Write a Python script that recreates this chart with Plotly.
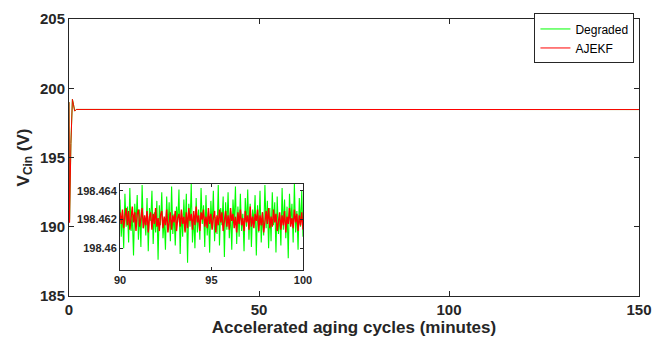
import numpy as np
import plotly.graph_objects as go

# ---- main plot data (transient then steady state) ----
t_main = [0, 0.15, 0.5, 0.9, 1.2, 1.5, 1.9, 150]
degraded_main = [199.0, 190.5, 196.0, 199.2, 198.8, 198.35, 198.47, 198.462]
ajekf_main = [199.0, 190.3, 196.0, 199.2, 198.8, 198.35, 198.47, 198.462]

# ---- inset data (zoom 90..100 min) ----
inset_start, inset_end = 90, 100
degraded_inset = [
    198.4634, 198.4608, 198.4626, 198.4600, 198.4638, 198.4615, 198.4629, 198.4604, 198.4642, 198.4612,
    198.4623, 198.4595, 198.4631, 198.4617, 198.4637, 198.4606, 198.4627, 198.4601, 198.4644, 198.4614,
    198.4622, 198.4609, 198.4635, 198.4598, 198.4628, 198.4619, 198.4640, 198.4603, 198.4625, 198.4611,
    198.4633, 198.4592, 198.4630, 198.4616, 198.4639, 198.4607, 198.4621, 198.4599, 198.4636, 198.4613,
    198.4632, 198.4605, 198.4643, 198.4610, 198.4624, 198.4602, 198.4629, 198.4618, 198.4641, 198.4596,
    198.4626, 198.4608, 198.4634, 198.4612, 198.4638, 198.4590, 198.4631, 198.4615, 198.4645, 198.4604,
    198.4623, 198.4600, 198.4635, 198.4611, 198.4627, 198.4606, 198.4642, 198.4617, 198.4630, 198.4601,
    198.4637, 198.4609, 198.4625, 198.4597, 198.4633, 198.4614, 198.4640, 198.4605, 198.4622, 198.4610,
    198.4644, 198.4602, 198.4628, 198.4616, 198.4636, 198.4594, 198.4632, 198.4613, 198.4639, 198.4607,
    198.4626, 198.4599, 198.4634, 198.4618, 198.4643, 198.4603, 198.4629, 198.4608, 198.4638, 198.4612,
    198.4624, 198.4598, 198.4635, 198.4615, 198.4641, 198.4606, 198.4631, 198.4601, 198.4627, 198.4617,
    198.4637, 198.4595, 198.4630, 198.4611, 198.4640, 198.4604, 198.4625, 198.4609, 198.4644, 198.4614,
    198.4633, 198.4600, 198.4628, 198.4605, 198.4639, 198.4616, 198.4632, 198.4597, 198.4636, 198.4610,
    198.4623, 198.4602, 198.4642, 198.4613, 198.4634, 198.4607, 198.4629, 198.4593, 198.4638, 198.4618,
    198.4631, 198.4604, 198.4645, 198.4611, 198.4626, 198.4599, 198.4635, 198.4615, 198.4640, 198.4608,
]
ajekf_inset = [
    198.4625, 198.4617, 198.4627, 198.4614, 198.4622, 198.4628, 198.4616, 198.4626, 198.4613, 198.4623,
    198.4629, 198.4618, 198.4625, 198.4612, 198.4624, 198.4627, 198.4615, 198.4621, 198.4628, 198.4614,
    198.4623, 198.4616, 198.4626, 198.4611, 198.4622, 198.4625, 198.4613, 198.4624, 198.4617, 198.4628,
    198.4615, 198.4621, 198.4612, 198.4623, 198.4626, 198.4614, 198.4622, 198.4616, 198.4627, 198.4611,
    198.4620, 198.4625, 198.4613, 198.4623, 198.4618, 198.4626, 198.4612, 198.4621, 198.4624, 198.4615,
    198.4627, 198.4617, 198.4622, 198.4611, 198.4625, 198.4614, 198.4628, 198.4619, 198.4624, 198.4613,
    198.4626, 198.4616, 198.4629, 198.4618, 198.4623, 198.4612, 198.4625, 198.4620, 198.4627, 198.4615,
    198.4622, 198.4614, 198.4628, 198.4617, 198.4624, 198.4613, 198.4621, 198.4626, 198.4611, 198.4623,
    198.4616, 198.4627, 198.4618, 198.4625, 198.4612, 198.4620, 198.4626, 198.4615, 198.4623, 198.4613,
    198.4628, 198.4619, 198.4624, 198.4614, 198.4622, 198.4611, 198.4625, 198.4617, 198.4627, 198.4616,
    198.4621, 198.4612, 198.4626, 198.4618, 198.4623, 198.4613, 198.4629, 198.4615, 198.4622, 198.4614,
    198.4624, 198.4619, 198.4627, 198.4612, 198.4623, 198.4616, 198.4625, 198.4611, 198.4621, 198.4626,
    198.4617, 198.4628, 198.4614, 198.4622, 198.4615, 198.4627, 198.4618, 198.4624, 198.4612, 198.4620,
    198.4625, 198.4613, 198.4623, 198.4616, 198.4626, 198.4611, 198.4622, 198.4617, 198.4628, 198.4615,
    198.4621, 198.4614, 198.4627, 198.4618, 198.4624, 198.4612, 198.4623, 198.4616, 198.4625, 198.4613,
]
t_inset_deg = np.linspace(inset_start, inset_end, len(degraded_inset))
t_inset_aj = np.linspace(inset_start, inset_end, len(ajekf_inset))

main_xticks = [0, 50, 100, 150]
main_yticks = [185, 190, 195, 200, 205]
inset_xticks = [90, 95, 100]
inset_yticks = [198.46, 198.462, 198.464]
inset_yticklabels = ["198.46", "198.462", "198.464"]

GREEN = "#00ff00"
RED = "#ff0000"
AX = "#262626"
FONT = "Liberation Sans"


def bold(vals):
    return ["<b>%s</b>" % v for v in vals]


fig = go.Figure()
fig.add_trace(go.Scatter(x=t_main, y=degraded_main, mode="lines", name="Degraded",
                         line=dict(color=GREEN, width=1)))
fig.add_trace(go.Scatter(x=t_main, y=ajekf_main, mode="lines", name="AJEKF",
                         line=dict(color=RED, width=1)))
fig.add_trace(go.Scatter(x=t_inset_deg, y=degraded_inset, mode="lines", showlegend=False,
                         line=dict(color=GREEN, width=1.1), xaxis="x2", yaxis="y2"))
fig.add_trace(go.Scatter(x=t_inset_aj, y=ajekf_inset, mode="lines", showlegend=False,
                         line=dict(color=RED, width=1.4), xaxis="x2", yaxis="y2"))

common = dict(showgrid=False, zeroline=False, showline=True, linecolor=AX, linewidth=1,
              mirror="ticks", ticks="inside", tickcolor=AX)
fig.update_layout(
    width=668, height=346,
    margin=dict(l=69, r=29, t=10, b=50),
    paper_bgcolor="white", plot_bgcolor="white",
    font=dict(family=FONT, color=AX),
    xaxis=dict(range=[0, 150], tickvals=main_xticks, ticktext=bold(main_xticks),
               ticklen=5, tickfont=dict(family=FONT, size=15, color=AX),
               title=dict(text="<b>Accelerated aging cycles (minutes)</b>",
                          font=dict(family=FONT, size=17, color=AX), standoff=1),
               **common),
    yaxis=dict(range=[185, 205], tickvals=main_yticks, ticktext=bold(main_yticks),
               ticklen=5, tickfont=dict(family=FONT, size=15, color=AX),
               title=dict(text="<b>V<sub>Cin</sub> (V)</b>",
                          font=dict(family=FONT, size=17, color=AX), standoff=6),
               **common),
    xaxis2=dict(domain=[0.0895, 0.4105], anchor="y2", range=[90, 100],
                tickvals=inset_xticks, ticktext=bold(inset_xticks),
                ticklen=3, tickfont=dict(family=FONT, size=11, color=AX), **common),
    yaxis2=dict(domain=[0.0944, 0.4056], anchor="x2", range=[198.4585, 198.4645],
                tickvals=inset_yticks, ticktext=bold(inset_yticklabels),
                ticklen=3, tickfont=dict(family=FONT, size=11, color=AX), **common),
    legend=dict(x=0.992, y=1.02, xanchor="right", yanchor="top",
                bgcolor="white", bordercolor=AX, borderwidth=1,
                font=dict(family=FONT, size=12, color="black"),
                itemwidth=30, tracegroupgap=0),
)

fig.write_html("out.html")
